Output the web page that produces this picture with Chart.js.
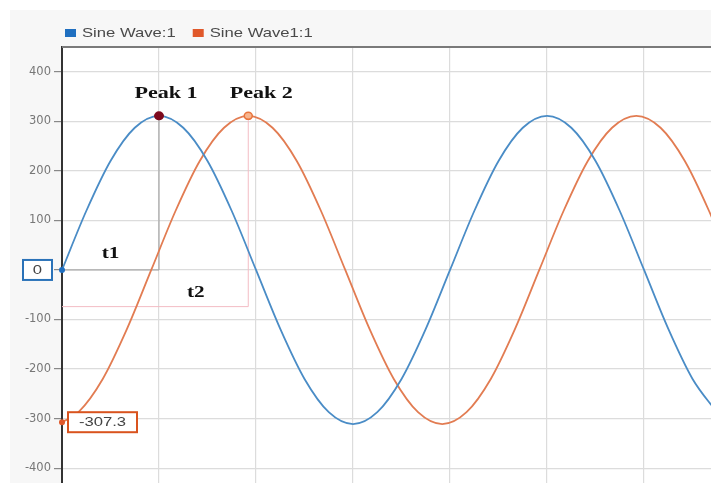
<!DOCTYPE html>
<html>
<head>
<meta charset="utf-8">
<script src="https://cdn.jsdelivr.net/npm/chart.js@4.4.1/dist/chart.umd.min.js"></script>
<style>
  html, body { margin: 0; padding: 0; background: #fff; }
  #wrap { position: absolute; left: 10px; top: 10px; width: 701px; height: 473px; }
</style>
</head>
<body>
<div id="wrap"><canvas id="graficoOnda"></canvas></div>
<script>
// series names (legend)
const nombres = ['Sine Wave:1', 'Sine Wave1:1'];

// Sine Wave:1 (blue)
const azulX = [0, 0.25, 0.5, 0.75, 1, 1.25, 1.5, 1.75, 2, 2.25, 2.5, 2.75, 3, 3.25, 3.5, 3.75,
               4, 4.25, 4.5, 4.75, 5, 5.25, 5.5, 5.75, 6, 6.25, 6.5, 6.75];
const azulY = [0, 119, 220, 287, 311, 287, 220, 119, 0, -119, -220, -287, -311, -287, -220, -119,
               0, 119, 220, 287, 311, 287, 220, 119, 0, -119, -220, -287];

// Sine Wave1:1 (orange)
const naranjaX = [0, 0.17, 0.42, 0.67, 0.92, 1.17, 1.42, 1.67, 1.92, 2.17, 2.42, 2.67, 2.92, 3.17, 3.42,
                  3.67, 3.92, 4.17, 4.42, 4.67, 4.92, 5.17, 5.42, 5.67, 5.92, 6.17, 6.42, 6.67, 6.92];
const naranjaY = [-307.3, -287, -220, -119, 0, 119, 220, 287, 311, 287, 220, 119, 0, -119, -220,
                  -287, -311, -287, -220, -119, 0, 119, 220, 287, 311, 287, 220, 119, 0];

// axis ticks
const ticksY = [-400, -300, -200, -100, 0, 100, 200, 300, 400];
const ticksX = [0, 1, 2, 3, 4, 5, 6];

// annotations
const picoNombres = ['Peak 1', 'Peak 2'];
const picoX = [1, 1.92];
const picoY = [311, 311];
const valoresInicio = [0, -307.3];
const nivelT2 = -74;

const AZUL = '#1f6fc0', NARANJA = '#e0582a';

function textoEstirado(ctx, txt, x, y, font, color, sx) {
    ctx.save();
    ctx.translate(x, y);
    ctx.scale(sx, 1);
    ctx.font = font;
    ctx.fillStyle = color;
    ctx.textAlign = 'center';
    ctx.textBaseline = 'middle';
    ctx.fillText(txt, 0, 0);
    ctx.restore();
}

const fondo = {
    id: 'fondo',
    beforeDraw(chart) {
        const {ctx, chartArea: a} = chart;
        ctx.save();
        ctx.fillStyle = '#f7f7f7';
        ctx.fillRect(0, 0, chart.width, chart.height);
        ctx.fillStyle = '#fff';
        ctx.fillRect(a.left, a.top, a.right - a.left, a.bottom - a.top);
        ctx.restore();
    }
};

const leyenda = {
    id: 'leyenda',
    afterDraw(chart) {
        const {ctx, chartArea: a} = chart;
        let x = a.left + 3;
        const y = a.top - 14;
        chart.data.datasets.forEach(ds => {
            ctx.save();
            ctx.fillStyle = ds.backgroundColor;
            ctx.fillRect(x, y - 4, 11, 8);
            ctx.font = '13px "Liberation Sans", Arial, sans-serif';
            const w = ctx.measureText(ds.label).width * 1.28;
            textoEstirado(ctx, ds.label, x + 17 + w / 2, y, ctx.font, '#4a4a4a', 1.28);
            ctx.restore();
            x += 17 + w + 17;
        });
    }
};

const guias = {
    id: 'guias',
    beforeDatasetsDraw(chart) {
        const {ctx, scales: {x, y}} = chart;
        ctx.save();
        ctx.lineWidth = 1;
        // t1
        ctx.strokeStyle = '#9a9a9a';
        ctx.beginPath();
        ctx.moveTo(x.getPixelForValue(picoX[0]), y.getPixelForValue(picoY[0]));
        ctx.lineTo(x.getPixelForValue(picoX[0]), y.getPixelForValue(0));
        ctx.lineTo(x.getPixelForValue(0), y.getPixelForValue(0));
        ctx.stroke();
        // t2
        ctx.strokeStyle = '#f3bcc4';
        ctx.beginPath();
        ctx.moveTo(x.getPixelForValue(picoX[1]), y.getPixelForValue(picoY[1]));
        ctx.lineTo(x.getPixelForValue(picoX[1]), y.getPixelForValue(nivelT2));
        ctx.lineTo(x.getPixelForValue(0), y.getPixelForValue(nivelT2));
        ctx.stroke();
        ctx.restore();
    },
    afterDatasetsDraw(chart) {
        const {ctx, chartArea: a, scales: {x, y}} = chart;
        ctx.save();
        // top border
        ctx.strokeStyle = '#7a7a7a';
        ctx.lineWidth = 2;
        ctx.beginPath();
        ctx.moveTo(a.left, a.top);
        ctx.lineTo(a.right, a.top);
        ctx.stroke();

        // peak markers
        const p1x = x.getPixelForValue(picoX[0]), p1y = y.getPixelForValue(picoY[0]);
        ctx.fillStyle = '#7d0a1e';
        ctx.beginPath();
        ctx.ellipse(p1x, p1y, 5, 4.5, 0, 0, Math.PI * 2);
        ctx.fill();
        const p2x = x.getPixelForValue(picoX[1]), p2y = y.getPixelForValue(picoY[1]);
        ctx.fillStyle = '#f7b58e';
        ctx.strokeStyle = '#e8743c';
        ctx.lineWidth = 1.5;
        ctx.beginPath();
        ctx.ellipse(p2x, p2y, 4, 3.5, 0, 0, Math.PI * 2);
        ctx.fill();
        ctx.stroke();

        // start markers
        const x0 = x.getPixelForValue(0);
        [AZUL, NARANJA].forEach((c, i) => {
            ctx.fillStyle = c;
            ctx.beginPath();
            ctx.arc(x0, y.getPixelForValue(valoresInicio[i]), 3, 0, Math.PI * 2);
            ctx.fill();
        });

        // labels
        const serif = 'bold 17px "Liberation Serif", "Times New Roman", serif';
        textoEstirado(ctx, picoNombres[0], p1x + 7, p1y - 22, serif, '#111', 1.3);
        textoEstirado(ctx, picoNombres[1], p2x + 13, p2y - 22, serif, '#111', 1.3);
        textoEstirado(ctx, 't1', x.getPixelForValue(0.5), y.getPixelForValue(32), serif, '#111', 1.25);
        textoEstirado(ctx, 't2', x.getPixelForValue(1.38), y.getPixelForValue(-45), serif, '#111', 1.25);

        // value boxes
        const sans = '13px "Liberation Sans", Arial, sans-serif';
        const cajas = [
            {txt: String(valoresInicio[0]), cx: a.left - 24.5, w: 29, c: '#2a72b8', v: valoresInicio[0]},
            {txt: String(valoresInicio[1]), cx: a.left + 40.5, w: 69, c: '#d9531e', v: valoresInicio[1]}
        ];
        cajas.forEach(b => {
            const cy = y.getPixelForValue(b.v);
            ctx.fillStyle = '#fff';
            ctx.fillRect(b.cx - b.w / 2, cy - 10, b.w, 20);
            ctx.strokeStyle = b.c;
            ctx.lineWidth = 2;
            ctx.strokeRect(b.cx - b.w / 2, cy - 10, b.w, 20);
            textoEstirado(ctx, b.txt, b.cx, cy + 0.5, sans, '#444', 1.28);
        });
        ctx.restore();
    }
};

const grafico = document.querySelector('#graficoOnda');

new Chart(grafico, {
    type: 'line',
    data: {
        datasets: [
            {
                label: nombres[0],
                data: azulX.map((v, i) => ({x: v, y: azulY[i]})),
                borderColor: '#4a8cc6',
                backgroundColor: AZUL,
                borderWidth: 1.8,
                pointRadius: 0,
                cubicInterpolationMode: 'monotone'
            },
            {
                label: nombres[1],
                data: naranjaX.map((v, i) => ({x: v, y: naranjaY[i]})),
                borderColor: '#e27c52',
                backgroundColor: NARANJA,
                borderWidth: 1.8,
                pointRadius: 0,
                cubicInterpolationMode: 'monotone'
            }
        ]
    },
    options: {
        responsive: true,
        maintainAspectRatio: false,
        animation: false,
        layout: { padding: { top: 37, left: 0, right: 0, bottom: 0 } },
        plugins: {
            legend: { display: false },
            tooltip: { enabled: false }
        },
        scales: {
            x: {
                type: 'linear',
                min: 0,
                max: 6.69,
                afterBuildTicks: s => { s.ticks = ticksX.map(v => ({value: v})); },
                afterFit: s => { s.height = 0; s.paddingLeft = 0; s.paddingRight = 0; },
                ticks: { display: false },
                border: { display: false },
                grid: { color: '#dcdcdc', lineWidth: 1.2, drawTicks: false }
            },
            y: {
                min: -430,
                max: 450,
                afterBuildTicks: s => { s.ticks = ticksY.map(v => ({value: v})); },
                afterFit: s => { s.width = 52; s.paddingTop = 0; s.paddingBottom = 0; },
                ticks: {
                    color: '#777',
                    padding: 3,
                    font: { family: 'DejaVu Sans', size: 11.5 }
                },
                border: { display: true, color: '#333', width: 2 },
                grid: { color: '#dcdcdc', lineWidth: 1.2, tickLength: 8, tickColor: '#888' }
            }
        }
    },
    plugins: [fondo, guias, leyenda]
});
</script>
</body>
</html>
